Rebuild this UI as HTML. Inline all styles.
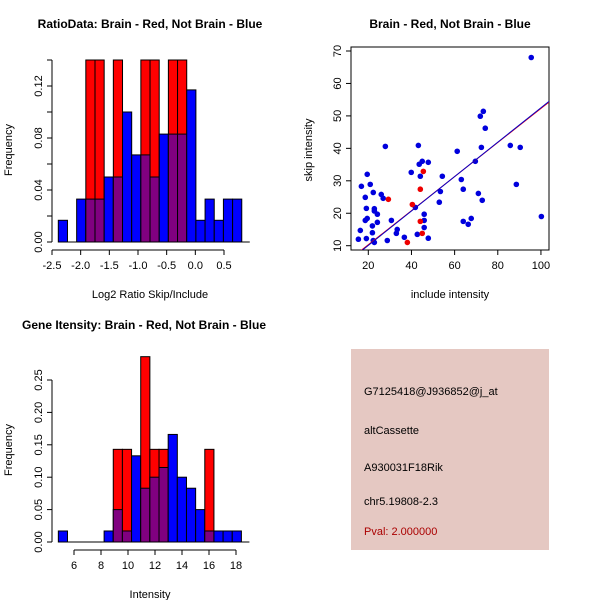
<!DOCTYPE html>
<html><head><meta charset="utf-8"><style>
body{margin:0;background:#fff}
svg{display:block;font-family:"Liberation Sans",sans-serif}
</style></head><body>
<svg id="chart" width="600" height="600" xmlns="http://www.w3.org/2000/svg"></svg>
<script>
// Panel 1: ratio histogram
const ratioBinStart = -2.39, ratioBinWidth = 0.16;
const ratioBlue = [0.0167,0,0.033,0.033,0.033,0.05,0.05,0.1,0.067,0.067,0.05,0.083,0.083,0.083,0.117,0.0167,0.033,0.0167,0.033,0.033];
const ratioRed  = [0,0,0,0.14,0.14,0,0.14,0,0,0.14,0.14,0,0.14,0.14,0,0,0,0,0,0];
const ratioXTicks = [-2.5,-2.0,-1.5,-1.0,-0.5,0.0,0.5];
const ratioYTicks = [0.00,0.02,0.04,0.06,0.08,0.10,0.12,0.14];
const ratioYLabels = ["0.00","","0.04","","0.08","","0.12",""];
// Panel 2: scatter
const blueInclude = [15.4,16.3,16.8,18.6,18.6,19.1,19.1,19.5,19.5,20.9,21.9,21.9,22.3,22.8,22.8,22.8,22.3,24.2,24.2,26.0,26.9,27.9,28.8,30.7,33.0,33.4,36.7,39.9,41.8,42.7,43.2,43.6,44.1,45.0,45.9,45.9,45.9,47.8,47.8,52.9,53.4,54.3,61.2,63.1,64.0,64.0,66.3,67.7,69.6,71.0,71.9,72.4,72.8,73.3,74.2,85.8,88.6,90.4,95.5,100.2];
const blueSkip = [12.0,14.7,28.3,24.9,17.8,21.5,12.2,18.4,32.0,28.9,16.1,14.0,26.4,21.4,20.7,11.0,11.6,19.7,17.2,25.8,24.6,40.6,11.6,17.8,13.8,15.0,12.6,32.6,21.8,13.5,40.9,35.1,31.4,36.0,17.8,19.7,15.6,35.7,12.3,23.4,26.7,31.4,39.1,30.4,27.4,17.5,16.6,18.4,36.0,26.1,49.9,40.3,24.0,51.4,46.2,40.9,28.9,40.3,68.0,19.0];
const redInclude = [29.3,38.1,40.4,44.1,44.1,45.0,45.5];
const redSkip = [24.3,11.0,22.7,27.4,17.5,13.8,32.9];
const fitRed = [-0.2,0.525];
const fitBlue = [-0.5,0.53];
const scatXTicks = [20,40,60,80,100];
const scatYTicks = [10,20,30,40,50,60,70];
// Panel 3: intensity histogram
const intBinStart = 4.84, intBinWidth = 0.678;
const intBlue = [0.017,0,0,0,0,0.017,0.05,0.017,0.133,0.083,0.1,0.115,0.166,0.1,0.083,0.05,0.017,0.017,0.017,0.017];
const intRed  = [0,0,0,0,0,0,0.143,0.143,0,0.286,0.143,0.143,0,0,0,0,0.143,0,0,0];
const intXTicks = [6,8,10,12,14,16,18];
const intYTicks = [0.00,0.05,0.10,0.15,0.20,0.25];
const intYLabels = ["0.00","0.05","0.10","0.15","0.20","0.25"];

const svg = document.getElementById('chart');
const NS = 'http://www.w3.org/2000/svg';
function mk(tag, at, parent){const e=document.createElementNS(NS,tag);for(const k in at)e.setAttribute(k,at[k]);(parent||svg).appendChild(e);return e;}
function txt(s,x,y,at,parent){const e=mk('text',Object.assign({x:x,y:y,'font-size':11,fill:'#000'},at),parent);e.textContent=s;return e;}

function hist(name, binStart, binW, blue, red, xTicks, yTicks, yLabels, xs, ys, axisX, axisY, xFmt){
  const g = mk('g',{});
  
  
  for(let i=0;i<blue.length;i++){
    const x0=xs(binStart+i*binW), x1=xs(binStart+(i+1)*binW);
    const b=blue[i], r=red[i], mx=Math.max(b,r), mn=Math.min(b,r);
    if(mx>0){
      const e=mk('rect',{x:x0,y:ys(mx),width:x1-x0,height:ys(0)-ys(mx),fill:r>b?'#ff0000':'#0000ff',stroke:'#000','stroke-width':1},g);
      
      
    }
    if(mn>0){
      const e=mk('rect',{x:x0,y:ys(mn),width:x1-x0,height:ys(0)-ys(mn),fill:'#800080',stroke:'#000','stroke-width':1},g);
      
      
    }
  }
  mk('line',{x1:xs(binStart),x2:xs(binStart+blue.length*binW)+8,y1:ys(0),y2:ys(0),stroke:'#000'},g);
  mk('line',{x1:axisX,x2:axisX,y1:ys(yTicks[0]),y2:ys(yTicks[yTicks.length-1]),stroke:'#000'},g);
  yTicks.forEach((t,i)=>{
    mk('line',{x1:axisX-5,x2:axisX,y1:ys(t),y2:ys(t),stroke:'#000'},g);
    if(yLabels[i]){
      const e=txt(yLabels[i],axisX-10,ys(t),{transform:`rotate(-90 ${axisX-10} ${ys(t)})`,'text-anchor':'middle'},g);
      
      
    }
  });
  mk('line',{x1:xs(xTicks[0]),x2:xs(xTicks[xTicks.length-1]),y1:axisY,y2:axisY,stroke:'#000'},g);
  xTicks.forEach(t=>{
    mk('line',{x1:xs(t),x2:xs(t),y1:axisY,y2:axisY+5,stroke:'#000'},g);
    const e=txt(xFmt(t),xs(t),axisY+19,{'text-anchor':'middle'},g);
    
    
  });
  return g;
}

const xs1 = v => 52 + (v + 2.5) * 57.33;
const ys1 = v => 242 - v * 1300;
hist('ratio-histogram', ratioBinStart, ratioBinWidth, ratioBlue, ratioRed, ratioXTicks, ratioYTicks, ratioYLabels, xs1, ys1, 52, 250, t=>t.toFixed(1));
const xs3 = v => 74 + (v - 6) * 13.5;
const ys3 = v => 542 - v * 648;
hist('intensity-histogram', intBinStart, intBinWidth, intBlue, intRed, intXTicks, intYTicks, intYLabels, xs3, ys3, 52, 550, t=>String(t));

const xs2 = v => 368.3 + (v - 20) * 2.158;
const ys2 = v => 245.7 - (v - 10) * 3.245;
const sg = mk('g',{});


const cp = mk('clipPath',{id:'clip2'},sg);
mk('rect',{x:351,y:47,width:198,height:203},cp);
mk('rect',{x:351,y:47,width:198,height:203,fill:'none',stroke:'#000'},sg);
scatXTicks.forEach(t=>{
  mk('line',{x1:xs2(t),x2:xs2(t),y1:250,y2:255,stroke:'#000'},sg);
  const e=txt(String(t),xs2(t),269,{'text-anchor':'middle'},sg);
  
  
});
scatYTicks.forEach(t=>{
  mk('line',{x1:346,x2:351,y1:ys2(t),y2:ys2(t),stroke:'#000'},sg);
  const e=txt(String(t),341,ys2(t),{transform:`rotate(-90 341 ${ys2(t)})`,'text-anchor':'middle'},sg);
  
  
});
blueInclude.forEach((v,i)=>{
  const c=mk('circle',{cx:xs2(v),cy:ys2(blueSkip[i]),r:2.8,fill:'#0000dd'},sg);
  
  
});
redInclude.forEach((v,i)=>{
  const c=mk('circle',{cx:xs2(v),cy:ys2(redSkip[i]),r:2.8,fill:'#ee0000'},sg);
  
  
});
[[fitRed,'#ff0000','red-fit-line'],[fitBlue,'#0000cc','blue-fit-line']].forEach(([f,col,nm])=>{
  const l=mk('line',{x1:xs2(10),y1:ys2(f[0]+f[1]*10),x2:xs2(110),y2:ys2(f[0]+f[1]*110),stroke:col,'stroke-width':1,'clip-path':'url(#clip2)'},sg);
  
  
});
</script>
<svg width="600" height="600" style="position:absolute;left:0;top:0" xmlns="http://www.w3.org/2000/svg">
  <g font-family="Liberation Sans, sans-serif" font-size="11" fill="#000">
    <text x="150" y="28" text-anchor="middle" font-weight="bold" font-size="12">RatioData: Brain - Red, Not Brain - Blue</text>
    <text x="450" y="28" text-anchor="middle" font-weight="bold" font-size="12">Brain - Red, Not Brain - Blue</text>
    <text x="144" y="329" text-anchor="middle" font-weight="bold" font-size="12">Gene Itensity: Brain - Red, Not Brain - Blue</text>
    <text x="150" y="298" text-anchor="middle">Log2 Ratio Skip/Include</text>
    <text x="450" y="298" text-anchor="middle">include intensity</text>
    <text x="150" y="598" text-anchor="middle">Intensity</text>
    <text transform="rotate(-90 12 150)" x="12" y="150" text-anchor="middle">Frequency</text>
    <text transform="rotate(-90 312 150)" x="312" y="150" text-anchor="middle">skip intensity</text>
    <text transform="rotate(-90 12 450)" x="12" y="450" text-anchor="middle">Frequency</text>
  </g>
  <g font-family="Liberation Sans, sans-serif" font-size="11">
    <rect x="351" y="349" width="198" height="201" fill="#e5c8c2"/>
    <text x="364" y="395" fill="#000">G7125418@J936852@j_at</text>
    <text x="364" y="434" fill="#000">altCassette</text>
    <text x="364" y="471" fill="#000">A930031F18Rik</text>
    <text x="364" y="505" fill="#000">chr5.19808-2.3</text>
    <text x="364" y="535" fill="#aa0000">Pval: 2.000000</text>
  </g>
</svg>
</body></html>
